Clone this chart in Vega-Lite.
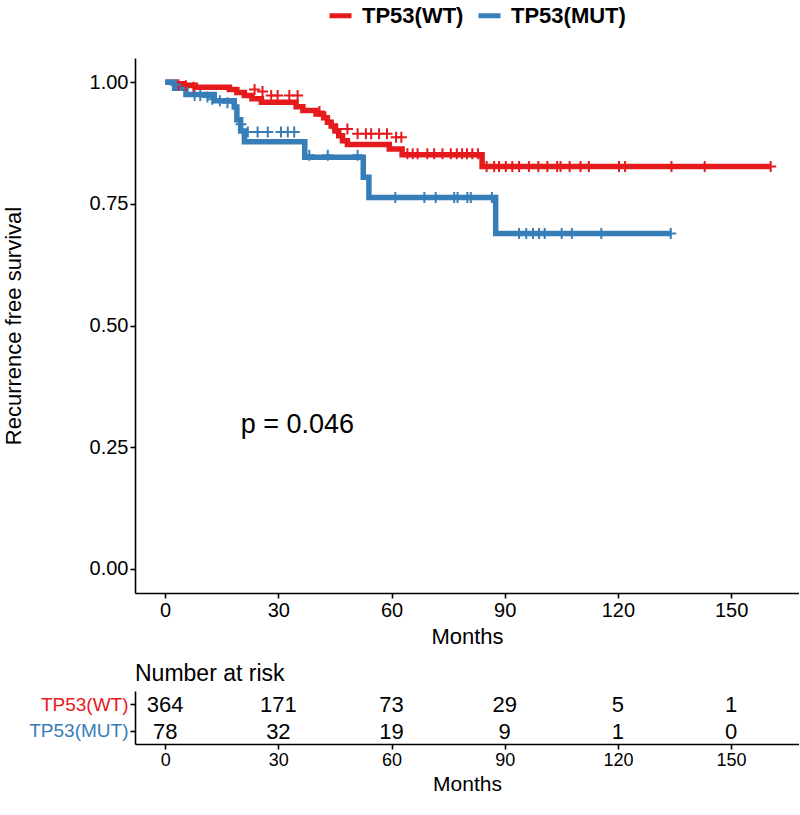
{
  "$schema": "https://vega.github.io/schema/vega-lite/v6.json",
  "padding": {"left": 2, "top": 2, "right": 0, "bottom": 0},
  "background": "white",
  "config": {
    "font": "Liberation Sans",
    "view": {"stroke": null},
    "axis": {
      "grid": false,
      "domainColor": "black",
      "domainWidth": 1.6,
      "tickColor": "black",
      "tickWidth": 1.6,
      "tickSize": 5,
      "labelColor": "black",
      "titleColor": "black",
      "labelFont": "Liberation Sans",
      "titleFont": "Liberation Sans",
      "titleFontWeight": "normal",
      "labelFontSize": 20,
      "titleFontSize": 22,
      "labelPadding": 2
    }
  },
  "datasets": {
    "curves": [
      {"group": "TP53(WT)", "time": 0, "surv": 1.0},
      {"group": "TP53(WT)", "time": 2.5, "surv": 0.997},
      {"group": "TP53(WT)", "time": 5, "surv": 0.994},
      {"group": "TP53(WT)", "time": 8, "surv": 0.99},
      {"group": "TP53(WT)", "time": 17, "surv": 0.985},
      {"group": "TP53(WT)", "time": 19, "surv": 0.979},
      {"group": "TP53(WT)", "time": 21, "surv": 0.973},
      {"group": "TP53(WT)", "time": 23, "surv": 0.966},
      {"group": "TP53(WT)", "time": 25.5, "surv": 0.959},
      {"group": "TP53(WT)", "time": 34.7, "surv": 0.95},
      {"group": "TP53(WT)", "time": 36.5, "surv": 0.942},
      {"group": "TP53(WT)", "time": 40, "surv": 0.935},
      {"group": "TP53(WT)", "time": 42, "surv": 0.927},
      {"group": "TP53(WT)", "time": 43, "surv": 0.918},
      {"group": "TP53(WT)", "time": 44, "surv": 0.91},
      {"group": "TP53(WT)", "time": 45, "surv": 0.9},
      {"group": "TP53(WT)", "time": 46, "surv": 0.89},
      {"group": "TP53(WT)", "time": 47, "surv": 0.88},
      {"group": "TP53(WT)", "time": 48.3, "surv": 0.872},
      {"group": "TP53(WT)", "time": 59.4, "surv": 0.863},
      {"group": "TP53(WT)", "time": 62.8, "surv": 0.851},
      {"group": "TP53(WT)", "time": 84, "surv": 0.827},
      {"group": "TP53(WT)", "time": 160.5, "surv": 0.827},
      {"group": "TP53(MUT)", "time": 0, "surv": 1.0},
      {"group": "TP53(MUT)", "time": 2.5, "surv": 0.988},
      {"group": "TP53(MUT)", "time": 5.5, "surv": 0.975},
      {"group": "TP53(MUT)", "time": 13, "surv": 0.962},
      {"group": "TP53(MUT)", "time": 18.3, "surv": 0.949},
      {"group": "TP53(MUT)", "time": 19, "surv": 0.923},
      {"group": "TP53(MUT)", "time": 20, "surv": 0.9},
      {"group": "TP53(MUT)", "time": 21, "surv": 0.878},
      {"group": "TP53(MUT)", "time": 37, "surv": 0.846},
      {"group": "TP53(MUT)", "time": 52.5, "surv": 0.805},
      {"group": "TP53(MUT)", "time": 54, "surv": 0.763},
      {"group": "TP53(MUT)", "time": 87.6, "surv": 0.689},
      {"group": "TP53(MUT)", "time": 134.2, "surv": 0.689}
    ],
    "censor": [
      {"group": "TP53(WT)", "time": 3.5, "surv": 0.995},
      {"group": "TP53(WT)", "time": 5.5, "surv": 0.993},
      {"group": "TP53(WT)", "time": 7.5, "surv": 0.99},
      {"group": "TP53(WT)", "time": 23.7, "surv": 0.985},
      {"group": "TP53(WT)", "time": 25.8, "surv": 0.981},
      {"group": "TP53(WT)", "time": 28.1, "surv": 0.973},
      {"group": "TP53(WT)", "time": 29.8, "surv": 0.973},
      {"group": "TP53(WT)", "time": 32.9, "surv": 0.973},
      {"group": "TP53(WT)", "time": 35.1, "surv": 0.973},
      {"group": "TP53(WT)", "time": 40.9, "surv": 0.94},
      {"group": "TP53(WT)", "time": 45.6, "surv": 0.904},
      {"group": "TP53(WT)", "time": 48.3, "surv": 0.904},
      {"group": "TP53(WT)", "time": 51.0, "surv": 0.894},
      {"group": "TP53(WT)", "time": 53.2, "surv": 0.894},
      {"group": "TP53(WT)", "time": 54.6, "surv": 0.894},
      {"group": "TP53(WT)", "time": 56.7, "surv": 0.894},
      {"group": "TP53(WT)", "time": 58.8, "surv": 0.894},
      {"group": "TP53(WT)", "time": 61.2, "surv": 0.887},
      {"group": "TP53(WT)", "time": 62.6, "surv": 0.887},
      {"group": "TP53(WT)", "time": 64.2, "surv": 0.853},
      {"group": "TP53(WT)", "time": 65.6, "surv": 0.853},
      {"group": "TP53(WT)", "time": 66.9, "surv": 0.853},
      {"group": "TP53(WT)", "time": 69.5, "surv": 0.853},
      {"group": "TP53(WT)", "time": 71.3, "surv": 0.853},
      {"group": "TP53(WT)", "time": 73.5, "surv": 0.853},
      {"group": "TP53(WT)", "time": 75.7, "surv": 0.853},
      {"group": "TP53(WT)", "time": 77.3, "surv": 0.853},
      {"group": "TP53(WT)", "time": 78.7, "surv": 0.853},
      {"group": "TP53(WT)", "time": 80.0, "surv": 0.853},
      {"group": "TP53(WT)", "time": 81.4, "surv": 0.853},
      {"group": "TP53(WT)", "time": 82.9, "surv": 0.853},
      {"group": "TP53(WT)", "time": 85.2, "surv": 0.827},
      {"group": "TP53(WT)", "time": 87.2, "surv": 0.827},
      {"group": "TP53(WT)", "time": 88.5, "surv": 0.827},
      {"group": "TP53(WT)", "time": 90.3, "surv": 0.827},
      {"group": "TP53(WT)", "time": 92.0, "surv": 0.827},
      {"group": "TP53(WT)", "time": 93.8, "surv": 0.827},
      {"group": "TP53(WT)", "time": 96.4, "surv": 0.827},
      {"group": "TP53(WT)", "time": 98.9, "surv": 0.827},
      {"group": "TP53(WT)", "time": 101.3, "surv": 0.827},
      {"group": "TP53(WT)", "time": 103.9, "surv": 0.827},
      {"group": "TP53(WT)", "time": 104.8, "surv": 0.827},
      {"group": "TP53(WT)", "time": 107.2, "surv": 0.827},
      {"group": "TP53(WT)", "time": 110.1, "surv": 0.827},
      {"group": "TP53(WT)", "time": 112.3, "surv": 0.827},
      {"group": "TP53(WT)", "time": 120.3, "surv": 0.827},
      {"group": "TP53(WT)", "time": 121.9, "surv": 0.827},
      {"group": "TP53(WT)", "time": 134.2, "surv": 0.827},
      {"group": "TP53(WT)", "time": 143.0, "surv": 0.827},
      {"group": "TP53(WT)", "time": 160.5, "surv": 0.827},
      {"group": "TP53(MUT)", "time": 2.8, "surv": 0.995},
      {"group": "TP53(MUT)", "time": 7.8, "surv": 0.973},
      {"group": "TP53(MUT)", "time": 9.3, "surv": 0.973},
      {"group": "TP53(MUT)", "time": 11.2, "surv": 0.97},
      {"group": "TP53(MUT)", "time": 12.5, "surv": 0.965},
      {"group": "TP53(MUT)", "time": 14.5, "surv": 0.962},
      {"group": "TP53(MUT)", "time": 16.5, "surv": 0.958},
      {"group": "TP53(MUT)", "time": 20.1, "surv": 0.914},
      {"group": "TP53(MUT)", "time": 21.9, "surv": 0.898},
      {"group": "TP53(MUT)", "time": 24.5, "surv": 0.898},
      {"group": "TP53(MUT)", "time": 27.2, "surv": 0.898},
      {"group": "TP53(MUT)", "time": 30.7, "surv": 0.898},
      {"group": "TP53(MUT)", "time": 32.5, "surv": 0.898},
      {"group": "TP53(MUT)", "time": 34.2, "surv": 0.898},
      {"group": "TP53(MUT)", "time": 38.2, "surv": 0.85},
      {"group": "TP53(MUT)", "time": 43.1, "surv": 0.85},
      {"group": "TP53(MUT)", "time": 51.0, "surv": 0.85},
      {"group": "TP53(MUT)", "time": 61.0, "surv": 0.763},
      {"group": "TP53(MUT)", "time": 68.7, "surv": 0.763},
      {"group": "TP53(MUT)", "time": 71.7, "surv": 0.763},
      {"group": "TP53(MUT)", "time": 76.6, "surv": 0.763},
      {"group": "TP53(MUT)", "time": 77.5, "surv": 0.763},
      {"group": "TP53(MUT)", "time": 80.1, "surv": 0.763},
      {"group": "TP53(MUT)", "time": 81.0, "surv": 0.763},
      {"group": "TP53(MUT)", "time": 86.6, "surv": 0.763},
      {"group": "TP53(MUT)", "time": 93.8, "surv": 0.689},
      {"group": "TP53(MUT)", "time": 95.7, "surv": 0.689},
      {"group": "TP53(MUT)", "time": 97.5, "surv": 0.689},
      {"group": "TP53(MUT)", "time": 99.1, "surv": 0.689},
      {"group": "TP53(MUT)", "time": 100.6, "surv": 0.689},
      {"group": "TP53(MUT)", "time": 105.1, "surv": 0.689},
      {"group": "TP53(MUT)", "time": 107.8, "surv": 0.689},
      {"group": "TP53(MUT)", "time": 115.6, "surv": 0.689},
      {"group": "TP53(MUT)", "time": 134.0, "surv": 0.689}
    ],
    "risk": [
      {"group": "TP53(WT)", "time": 0, "n": 364},
      {"group": "TP53(WT)", "time": 30, "n": 171},
      {"group": "TP53(WT)", "time": 60, "n": 73},
      {"group": "TP53(WT)", "time": 90, "n": 29},
      {"group": "TP53(WT)", "time": 120, "n": 5},
      {"group": "TP53(WT)", "time": 150, "n": 1},
      {"group": "TP53(MUT)", "time": 0, "n": 78},
      {"group": "TP53(MUT)", "time": 30, "n": 32},
      {"group": "TP53(MUT)", "time": 60, "n": 19},
      {"group": "TP53(MUT)", "time": 90, "n": 9},
      {"group": "TP53(MUT)", "time": 120, "n": 1},
      {"group": "TP53(MUT)", "time": 150, "n": 0}
    ],
    "pval": [
      {"label": "p = 0.046", "time": 20, "surv": 0.296}
    ]
  },
  "spacing": 16,
  "resolve": {"scale": {"x": "independent", "color": "independent"}},
  "vconcat": [
    {
      "width": 664,
      "height": 535,
      "encoding": {
        "x": {
          "field": "time", "type": "quantitative",
          "scale": {"domain": [-8, 168], "nice": false, "zero": false},
          "axis": {"values": [0, 30, 60, 90, 120, 150], "title": "Months", "titlePadding": 6}
        },
        "y": {
          "field": "surv", "type": "quantitative",
          "scale": {"domain": [-0.05, 1.05], "nice": false, "zero": false},
          "axis": {"values": [0, 0.25, 0.5, 0.75, 1], "format": ".2f", "title": "Recurrence free survival", "titlePadding": 64}
        }
      },
      "layer": [
        {
          "data": {"name": "curves"},
          "mark": {"type": "line", "interpolate": "step-after", "strokeWidth": 5.5},
          "encoding": {
            "color": {
              "field": "group", "type": "nominal",
              "scale": {"domain": ["TP53(WT)", "TP53(MUT)"], "range": ["#E41A1C", "#377EB8"]},
              "legend": {
                "orient": "none", "legendX": 192, "legendY": -56, "direction": "horizontal",
                "title": null, "labelFontSize": 22, "labelFontWeight": "bold", "labelColor": "black",
                "symbolType": "stroke", "symbolStrokeWidth": 5, "symbolSize": 484,
                "columnPadding": 4, "labelOffset": 8
              }
            }
          }
        },
        {
          "data": {"name": "censor"},
          "mark": {"type": "point", "shape": "M-1,0L1,0M0,-1L0,1", "filled": false, "strokeWidth": 2, "size": 121, "opacity": 1},
          "encoding": {
            "color": {"field": "group", "type": "nominal"}
          }
        },
        {
          "data": {"name": "pval"},
          "mark": {"type": "text", "align": "left", "baseline": "middle", "fontSize": 27, "color": "black"},
          "encoding": {"text": {"field": "label"}}
        }
      ]
    },
    {
      "width": 664,
      "height": 53,
      "title": {"text": "Number at risk", "anchor": "start", "frame": "group", "fontSize": 23, "fontWeight": "normal", "color": "black", "offset": 5},
      "data": {"name": "risk"},
      "mark": {"type": "text", "fontSize": 22, "color": "black", "baseline": "middle", "dy": 1},
      "encoding": {
        "x": {
          "field": "time", "type": "quantitative",
          "scale": {"domain": [-8, 168], "nice": false, "zero": false},
          "axis": {"values": [0, 30, 60, 90, 120, 150], "title": "Months", "labelFontSize": 18, "titleFontSize": 21, "titlePadding": 4}
        },
        "y": {
          "field": "group", "type": "nominal",
          "sort": ["TP53(WT)", "TP53(MUT)"],
          "scale": {"type": "point", "padding": 0.5},
          "axis": {
            "title": null, "labelFontSize": 19,
            "labelColor": {"condition": {"test": "datum.value === 'TP53(WT)'", "value": "#E41A1C"}, "value": "#377EB8"}
          }
        },
        "text": {"field": "n", "type": "quantitative"}
      }
    }
  ]
}
